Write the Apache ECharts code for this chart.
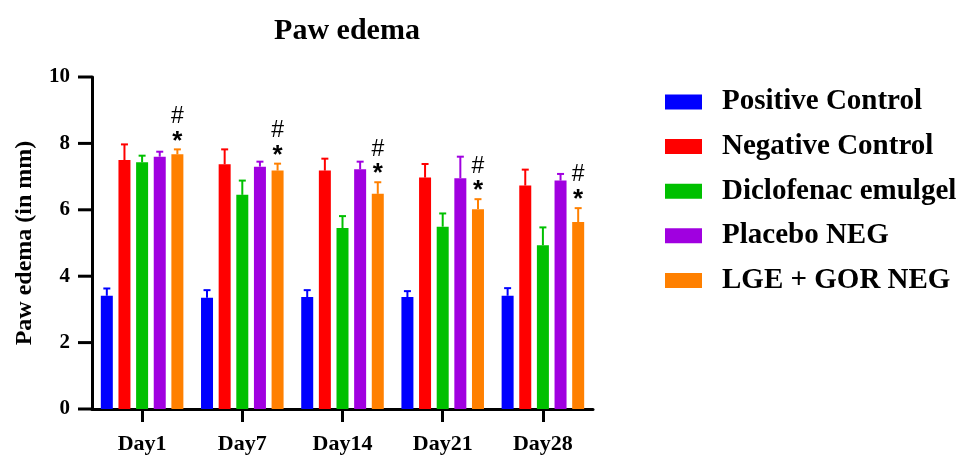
<!DOCTYPE html>
<html><head><meta charset="utf-8">
<script src="https://cdn.jsdelivr.net/npm/echarts@6/dist/echarts.min.js"></script>
<style>html,body{margin:0;padding:0;background:#fff}#c{width:974px;height:458px}</style>
</head><body><div id="c"></div>
<script>
const days = ['Day1','Day7','Day14','Day21','Day28'];
const seriesNames = ['Positive Control','Negative Control','Diclofenac emulgel','Placebo NEG','LGE + GOR NEG'];
const positiveControl = [3.41, 3.35, 3.37, 3.37, 3.41];
const positiveControlErr = [0.22, 0.23, 0.21, 0.18, 0.23];
const negativeControl = [7.50, 7.37, 7.18, 6.97, 6.73];
const negativeControlErr = [0.47, 0.45, 0.36, 0.41, 0.48];
const diclofenac = [7.43, 6.45, 5.45, 5.49, 4.93];
const diclofenacErr = [0.20, 0.43, 0.36, 0.40, 0.54];
const placebo = [7.60, 7.30, 7.22, 6.95, 6.88];
const placeboErr = [0.15, 0.15, 0.23, 0.65, 0.20];
const lgeGor = [7.67, 7.18, 6.48, 6.02, 5.63];
const lgeGorErr = [0.15, 0.21, 0.35, 0.30, 0.42];
const sigHash = ['#','#','#','#','#'];
const sigStar = ['*','*','*','*','*'];
const yTicks = [0, 2, 4, 6, 8, 10];

const colors = ['#0000FF','#FF0000','#00C000','#A000E0','#FF8000'];
const values = [positiveControl, negativeControl, diclofenac, placebo, lgeGor];
const errs = [positiveControlErr, negativeControlErr, diclofenacErr, placeboErr, lgeGorErr];
const BW = 12, GAP = 0.47, STEP = BW * (1 + GAP);
const FONT = 'Liberation Serif';

const series = [];
values.forEach((vals, si) => {
  series.push({
    name: seriesNames[si], type: 'bar', data: vals, barWidth: BW, barGap: (GAP*100)+'%',
    itemStyle: {color: colors[si]}, z: 2
  });
});
values.forEach((vals, si) => {
  series.push({
    type: 'custom', name: seriesNames[si], clip: false, z: 3,
    data: vals.map((v, i) => [i, v, errs[si][i]]),
    encode: {x: 0, y: 1},
    renderItem: function (params, api) {
      const xi = api.value(0), v = api.value(1), e = api.value(2);
      const b = api.coord([xi, v]);
      const t = api.coord([xi, v + e]);
      const x = b[0] + (si - 2) * STEP;
      const st = {stroke: colors[si], lineWidth: 2};
      const ch = [
        {type: 'line', shape: {x1: x, y1: b[1], x2: x, y2: t[1]}, style: st},
        {type: 'line', shape: {x1: x - 3.5, y1: t[1], x2: x + 3.5, y2: t[1]}, style: st}
      ];
      if (si === 4) {
        ch.push({type: 'text', style: {text: sigStar[xi], x: x, y: t[1] - 8, align: 'center', verticalAlign: 'middle', font: 'bold 26px "Liberation Sans"', fill: '#000'}});
        ch.push({type: 'text', style: {text: sigHash[xi], x: x, y: t[1] - 33, align: 'center', verticalAlign: 'middle', font: '23px "Liberation Sans"', fill: '#000'}});
      }
      return {type: 'group', children: ch};
    }
  });
});

const chart = echarts.init(document.getElementById('c'));
chart.setOption({
  animation: false,
  title: {text: 'Paw edema', left: 342, top: 11, textAlign: 'center',
    textStyle: {fontFamily: FONT, fontWeight: 'bold', fontSize: 30, color: '#000'}},
  legend: {
    orient: 'vertical', left: 665, top: 87, padding: 0, itemWidth: 37, itemHeight: 15, itemGap: 14.6,
    icon: 'rect', data: seriesNames,
    textStyle: {fontFamily: FONT, fontWeight: 'bold', fontSize: 29, lineHeight: 30, color: '#000', padding: [0,0,0,15]}
  },
  grid: {left: 92, right: 381, top: 77, bottom: 49},
  xAxis: {
    type: 'category', data: days,
    axisLine: {show: true, lineStyle: {color: '#000', width: 3}},
    axisTick: {show: true, alignWithLabel: true, length: 13, lineStyle: {color: '#000', width: 3}},
    axisLabel: {fontFamily: FONT, fontWeight: 'bold', fontSize: 22, color: '#000', margin: 24}
  },
  yAxis: {
    type: 'value', min: yTicks[0], max: yTicks[yTicks.length-1], interval: 2,
    name: 'Paw edema (in mm)', nameLocation: 'middle', nameGap: 55,
    nameTextStyle: {fontFamily: FONT, fontWeight: 'bold', fontSize: 24, color: '#000'},
    axisLine: {show: true, lineStyle: {color: '#000', width: 3}},
    axisTick: {show: false},
    splitLine: {show: false},
    axisLabel: {
      margin: 0, color: '#000', fontFamily: FONT, fontWeight: 'bold', fontSize: 21,
      formatter: v => '{v|' + v + '}{g|}{t|}',
      rich: {
        v: {fontFamily: FONT, fontWeight: 'bold', fontSize: 21, color: '#000', verticalAlign: 'middle'},
        g: {width: 8, height: 3, verticalAlign: 'middle'},
        t: {width: 14, height: 3, backgroundColor: '#000', verticalAlign: 'middle'}
      }
    }
  },
  series: series
});
</script></body></html>
